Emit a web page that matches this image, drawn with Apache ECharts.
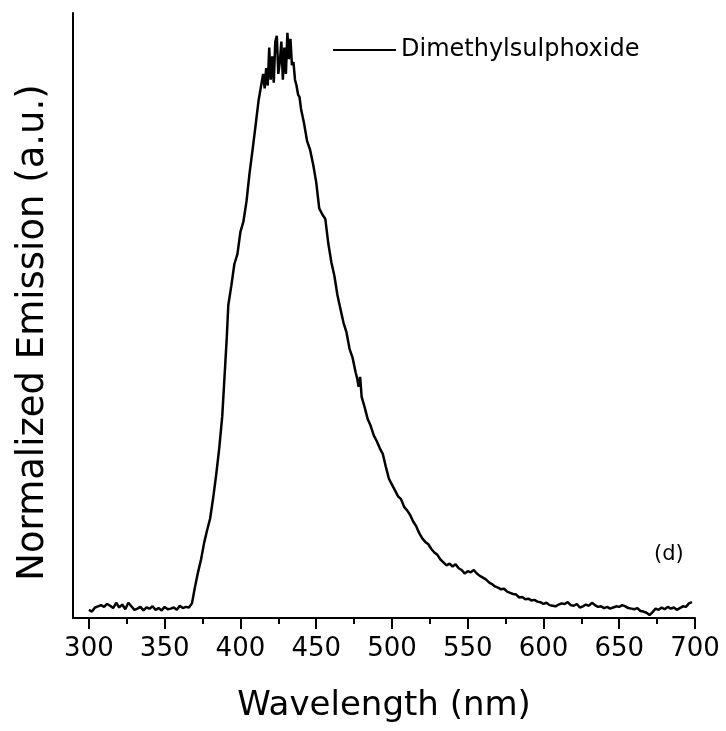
<!DOCTYPE html>
<html>
<head>
<meta charset="utf-8">
<script src="https://cdn.jsdelivr.net/npm/echarts@6/dist/echarts.min.js"></script>
<style>
html,body{margin:0;padding:0;background:#fff;}
#chart{width:726px;height:731px;}
</style>
</head>
<body>
<div id="chart"></div>
<script>
// ---- data ----
const seriesName = 'Dimethylsulphoxide';
const wavelength = [
  300,302,304,306,308,310,312,314,316,318,320,322,324,326,328,330,332,334,336,338,340,342,344,346,348,350,352,354,356,358,360,362,364,366,367,
  368,370,372,374,376,378,380,382,384,386,388,390,391,392,394,396,398,400,402,404,406,408,410,412,
  414,415,416,417,418,419,420,421,422,423,424,425,426,427,428,429,430,431,432,433,434,435,436,437,438,
  439,440,442,444,446,448,450,452,454,456,458,460,462,464,466,468,470,472,474,476,477,478,479,480,482,484,486,488,490,492,494,496,498,
  500,502,504,506,508,510,512,514,516,518,520,522,524,526,528,530,532,534,536,538,540,542,544,546,548,550,552,554,556,558,560,562,564,566,568,570,572,574,576,578,580,582,584,586,588,590,592,594,596,598,
  600,602,604,606,608,610,612,614,616,618,620,622,624,626,628,630,632,634,636,638,640,642,644,646,648,650,652,654,656,658,660,662,664,666,668,670,672,674,676,678,680,682,684,686,688,690,692,694,696,698
];
const emission = [
  0.014,0.011,0.018,0.020,0.022,0.019,0.024,0.021,0.017,0.026,0.018,0.023,0.015,0.026,0.020,0.014,0.016,0.019,0.013,0.018,0.016,0.020,0.014,0.017,0.013,0.019,0.015,0.016,0.018,0.014,0.021,0.017,0.019,0.018,0.020,
  0.025,0.053,0.078,0.100,0.128,0.150,0.170,0.205,0.245,0.290,0.345,0.435,0.480,0.535,0.568,0.605,0.622,0.660,0.678,0.712,0.760,0.800,0.842,0.885,
  0.915,0.930,0.905,0.940,0.910,0.975,0.920,0.960,0.915,0.985,0.995,0.930,0.950,0.985,0.920,0.975,0.930,1.000,0.955,0.990,0.945,0.950,0.920,0.910,0.895,
  0.890,0.870,0.845,0.815,0.800,0.775,0.745,0.700,0.690,0.682,0.640,0.608,0.585,0.552,0.528,0.505,0.488,0.460,0.445,0.420,0.410,0.395,0.412,0.378,0.360,0.340,0.328,0.312,0.302,0.290,0.280,0.258,0.238,
  0.228,0.218,0.208,0.203,0.190,0.184,0.176,0.165,0.157,0.145,0.136,0.130,0.126,0.118,0.112,0.108,0.100,0.095,0.090,0.093,0.088,0.092,0.085,0.082,0.076,0.080,0.078,0.082,0.076,0.072,0.069,0.066,0.061,0.058,0.054,0.052,0.049,0.050,0.045,0.043,0.041,0.040,0.035,0.036,0.032,0.033,0.030,0.031,0.028,0.027,
  0.024,0.026,0.022,0.021,0.020,0.023,0.025,0.024,0.027,0.022,0.021,0.024,0.018,0.020,0.023,0.021,0.026,0.022,0.019,0.020,0.017,0.019,0.016,0.018,0.020,0.019,0.022,0.020,0.017,0.016,0.015,0.017,0.012,0.011,0.009,0.005,0.010,0.016,0.014,0.018,0.015,0.019,0.016,0.018,0.014,0.017,0.020,0.019,0.025,0.027
];
const majorTicks = [300,350,400,450,500,550,600,650,700];
const minorTicks = [325,375,425,475,525,575,625,675];
const xTitle = 'Wavelength (nm)';
const yTitle = 'Normalized Emission (a.u.)';
const panelLabel = '(d)';

const FONT = 'DejaVu Sans';
const points = wavelength.map((w, i) => [w, emission[i]]);

const chart = echarts.init(document.getElementById('chart'), null, {renderer: 'canvas'});
chart.setOption({
  backgroundColor: '#ffffff',
  animation: false,
  grid: {left: 73, right: 31, top: 13, bottom: 113, containLabel: false},
  legend: {
    data: [seriesName],
    left: 333, top: 38,
    padding: 0,
    itemWidth: 63, itemHeight: 14,
    textStyle: {fontFamily: FONT, fontSize: 24, color: '#000'},
    icon: 'path://M0,6 L63,6 L63,8 L0,8 Z',
    itemStyle: {color: '#000'}
  },
  title: {
    text: panelLabel,
    left: 654, top: 544,
    padding: 0,
    textStyle: {fontFamily: FONT, fontSize: 21, fontWeight: 'normal', color: '#000'}
  },
  xAxis: [{
    type: 'value', min: 289.5, max: 700,
    axisLine: {show: true, onZero: false, lineStyle: {color: '#000', width: 2}},
    axisTick: {show: true, inside: false, length: 11, customValues: majorTicks, lineStyle: {color: '#000', width: 2}},
    axisLabel: {show: true, customValues: majorTicks, margin: 18, fontFamily: FONT, fontSize: 26, color: '#000'},
    splitLine: {show: false},
    name: xTitle, nameLocation: 'middle', nameGap: 71,
    nameTextStyle: {fontFamily: FONT, fontSize: 34, color: '#000'}
  }, {
    type: 'value', min: 289.5, max: 700, position: 'bottom',
    axisLine: {show: false},
    axisTick: {show: true, inside: false, length: 6, customValues: minorTicks, lineStyle: {color: '#000', width: 2}},
    axisLabel: {show: false},
    splitLine: {show: false}
  }],
  yAxis: {
    type: 'value', min: 0, max: 1.034,
    axisLine: {show: true, onZero: false, lineStyle: {color: '#000', width: 2}},
    axisTick: {show: false},
    axisLabel: {show: false},
    splitLine: {show: false},
    name: yTitle, nameLocation: 'middle', nameGap: 21, nameRotate: 90,
    nameTextStyle: {fontFamily: FONT, fontSize: 37, color: '#000', padding: [0, 34, 0, 0]}
  },
  series: [{
    name: seriesName,
    type: 'line',
    xAxisIndex: 0,
    data: points,
    showSymbol: false,
    symbol: 'none',
    lineStyle: {color: '#000', width: 2.5},
    itemStyle: {color: '#000'}
  }]
});
</script>
</body>
</html>
